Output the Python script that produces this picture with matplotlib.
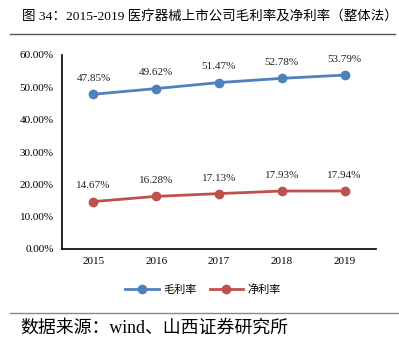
import matplotlib
matplotlib.use("Agg")
import matplotlib.pyplot as plt
from matplotlib.lines import Line2D

years = ["2015", "2016", "2017", "2018", "2019"]
gross = [47.85, 49.62, 51.47, 52.78, 53.79]
net = [14.67, 16.28, 17.13, 17.93, 17.94]
yticks = [0, 10, 20, 30, 40, 50, 60]

FAM = ["Liberation Serif", "Noto Sans CJK SC"]
plt.rcParams["font.family"] = FAM

W, H = 399, 340
fig = plt.figure(figsize=(W / 100, H / 100), dpi=100)

ax = fig.add_axes([62 / W, 1 - 249 / H, (376 - 62) / W, (249 - 55) / H])
x = list(range(len(years)))
blue = "#4F81BD"
red = "#C0504D"
ax.plot(x, gross, color=blue, lw=2, marker="o", ms=6, label="毛利率")
ax.plot(x, net, color=red, lw=2, marker="o", ms=6, label="净利率")
for xi, v in zip(x, gross):
    ax.annotate(f"{v:.2f}%", (xi, v), xytext=(0, 8), textcoords="offset points",
                ha="center", va="bottom", fontsize=8, color="#222222")
for xi, v in zip(x, net):
    ax.annotate(f"{v:.2f}%", (xi, v), xytext=(0, 8), textcoords="offset points",
                ha="center", va="bottom", fontsize=8, color="#222222")

ax.set_xlim(-0.5, len(years) - 0.5)
ax.set_ylim(0, 60)
ax.set_yticks(yticks)
ax.set_yticklabels([f"{t:.2f}%" for t in yticks], fontsize=8)
ax.set_xticks(x)
ax.set_xticklabels(years, fontsize=8)
ax.tick_params(length=0, pad=6)
for s in ["top", "right"]:
    ax.spines[s].set_visible(False)
ax.spines["left"].set_linewidth(1.2)
ax.spines["bottom"].set_linewidth(1.2)

handles = [Line2D([], [], color=blue, lw=2, marker="o", ms=6),
           Line2D([], [], color=red, lw=2, marker="o", ms=6)]
fig.legend(handles, ["毛利率", "净利率"], loc="center", bbox_to_anchor=(203 / W, 1 - 290 / H),
           ncol=2, frameon=False, prop={"family": ["Noto Sans CJK SC"], "size": 8},
           handlelength=3, columnspacing=1.2, handletextpad=0.4)

fig.text(22 / W, 1 - 17 / H, "图 34：2015-2019 医疗器械上市公司毛利率及净利率（整体法）",
         fontsize=9.7, ha="left", va="center", family=FAM)
fig.add_artist(Line2D([10 / W, 395 / W], [1 - 34 / H, 1 - 34 / H], color="#555555", lw=1))
fig.add_artist(Line2D([10 / W, 399 / W], [1 - 313 / H, 1 - 313 / H], color="#888888", lw=1))
fig.text(20 / W, 1 - 328 / H, "数据来源：wind、山西证券研究所", fontsize=12.9,
         ha="left", va="center", family=FAM)

fig.savefig("out.png", dpi=100)
